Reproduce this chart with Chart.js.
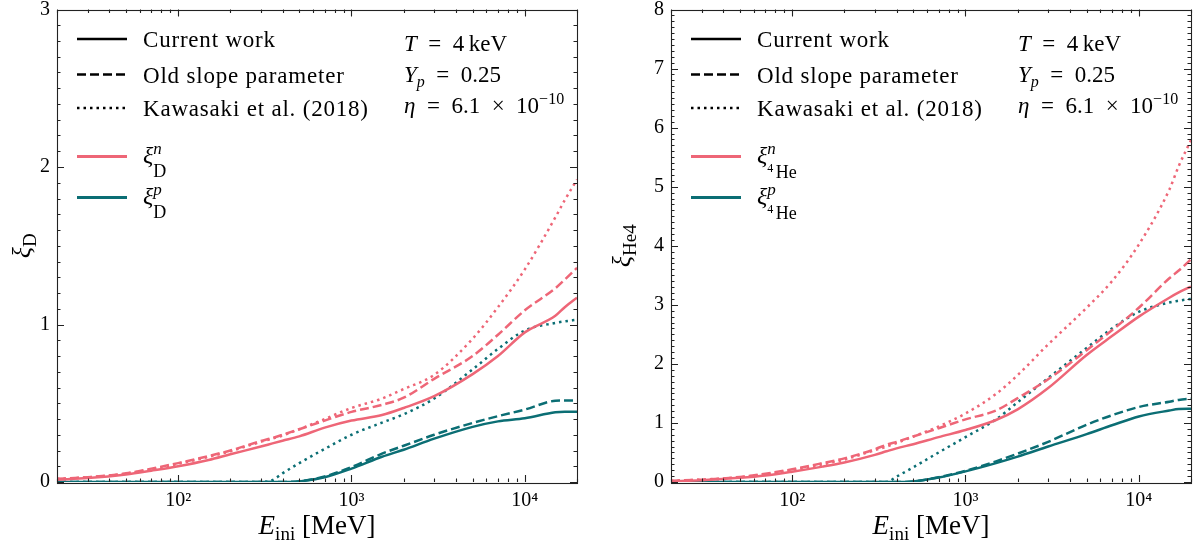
<!DOCTYPE html>
<html lang="en">

<head>
    <meta charset="UTF-8">
    <meta name="viewport" content="width=device-width, initial-scale=1.0">
    <script src="https://cdn.jsdelivr.net/npm/chart.js"></script>
    <title>ξD e ξ4He</title>
    <style>
        body { margin: 0; background: #fff; }
        .container { position: relative; width: 1200px; height: 546px; }
        .container canvas { position: absolute; top: 0; }
    </style>
</head>
<body>
    <div class="container">
        <canvas id="GraficoD" width="600" height="546" style="left: 0;"></canvas>
        <canvas id="GraficoHe" width="600" height="546" style="left: 600px;"></canvas>
    </div>
<script>
// energia inicial [MeV], comum a todas as curvas
const energias = [20, 30, 50, 70, 100, 150, 200, 300, 350, 400, 500, 700, 1000, 1500, 2000, 3000, 5000, 7000, 10000, 15000, 17000, 20000];

// xi_D : n (rosa) e p (verde)
const dN_atual    = [0.015, 0.025, 0.048, 0.072, 0.10, 0.14, 0.176, 0.225, 0.245, 0.262, 0.29, 0.345, 0.39, 0.425, 0.47, 0.545, 0.685, 0.80, 0.95, 1.055, 1.11, 1.17];
const dN_antigo   = [0.02, 0.03, 0.055, 0.085, 0.12, 0.165, 0.20, 0.26, 0.28, 0.30, 0.335, 0.39, 0.445, 0.49, 0.535, 0.655, 0.80, 0.935, 1.09, 1.23, 1.285, 1.36];
const dN_kawasaki = [0.02, 0.03, 0.053, 0.08, 0.115, 0.16, 0.195, 0.255, 0.275, 0.295, 0.335, 0.40, 0.47, 0.53, 0.59, 0.68, 0.91, 1.11, 1.35, 1.68, 1.79, 1.92];
const dP_atual    = [0, 0, 0, 0, 0, 0, 0, 0, 0, 0, 0.004, 0.03, 0.085, 0.16, 0.205, 0.275, 0.35, 0.385, 0.405, 0.443, 0.446, 0.446];
const dP_antigo   = [0, 0, 0, 0, 0, 0, 0, 0, 0, 0, 0.005, 0.035, 0.095, 0.18, 0.23, 0.30, 0.375, 0.418, 0.46, 0.516, 0.518, 0.518];
const dP_kawasaki = [0, 0, 0, 0, 0, 0, 0, 0, 0.012, 0.055, 0.12, 0.21, 0.30, 0.377, 0.43, 0.53, 0.715, 0.845, 0.962, 1.01, 1.02, 1.03];

// xi_4He
const heN_atual    = [0.01, 0.03, 0.07, 0.11, 0.175, 0.26, 0.33, 0.46, 0.52, 0.57, 0.64, 0.76, 0.88, 1.05, 1.23, 1.59, 2.15, 2.47, 2.80, 3.12, 3.21, 3.31];
const heN_antigo   = [0.02, 0.04, 0.085, 0.14, 0.215, 0.32, 0.40, 0.555, 0.63, 0.68, 0.77, 0.91, 1.06, 1.21, 1.42, 1.74, 2.23, 2.57, 2.95, 3.45, 3.58, 3.77];
const heN_kawasaki = [0.02, 0.04, 0.08, 0.13, 0.205, 0.30, 0.38, 0.54, 0.60, 0.66, 0.77, 0.94, 1.16, 1.49, 1.81, 2.33, 2.95, 3.40, 4.02, 4.95, 5.35, 5.79];
const heP_atual    = [0, 0, 0, 0, 0, 0, 0, 0, 0, 0, 0.01, 0.075, 0.18, 0.32, 0.43, 0.60, 0.81, 0.96, 1.11, 1.21, 1.235, 1.24];
const heP_antigo   = [0, 0, 0, 0, 0, 0, 0, 0, 0, 0, 0.01, 0.08, 0.19, 0.35, 0.48, 0.68, 0.97, 1.13, 1.27, 1.36, 1.39, 1.41];
const heP_kawasaki = [0, 0, 0, 0, 0, 0, 0, 0, 0, 0.09, 0.25, 0.50, 0.76, 1.06, 1.35, 1.76, 2.27, 2.60, 2.88, 3.04, 3.07, 3.10];

const legendaEstilos = ['Current work', 'Old slope parameter', 'Kawasaki et al. (2018)'];
const rotulosEixoX = ['10²', '10³', '10⁴'];

const rosa = '#EE6677';
const verde = '#0B6E74';
const tracos = [[], [9, 4], [2.5, 4]];
const fonte = 'Liberation Serif';

function ehInteiro(v) {
    return Math.abs(v - Math.round(v)) < 1e-6;
}

function serie(y, cor, traco) {
    return {
        data: energias.map((e, i) => ({ x: e, y: y[i] })),
        borderColor: cor,
        borderWidth: 2.5,
        borderDash: traco,
        borderCapStyle: 'butt',
        pointRadius: 0,
        cubicInterpolationMode: 'monotone',
        fill: false
    };
}

// texto com itálico, sobrescrito e subscrito; "junto" empilha sobre a parte anterior
function textoRico(ctx, partes, medir) {
    let cx = 0, inicio = 0;
    partes.forEach(p => {
        ctx.font = (p.it ? 'italic ' : '') + (p.tam || 23) + 'px "' + fonte + '"';
        if (p.junto) cx = Math.max(cx, inicio); else inicio = cx;
        const x0 = p.junto ? inicio : cx;
        if (!medir) ctx.fillText(p.t, x0, p.dy || 0);
        cx = Math.max(cx, x0 + ctx.measureText(p.t).width);
    });
    return cx;
}

function escreve(ctx, x, y, partes, alinhar) {
    ctx.save();
    const w = textoRico(ctx, partes, true);
    ctx.translate(alinhar === 'center' ? x - w / 2 : x, y);
    textoRico(ctx, partes, false);
    ctx.restore();
}

// moldura com marcas para dentro nos quatro lados
const moldura = {
    id: 'moldura',
    afterDatasetsDraw(chart) {
        const { ctx, chartArea: a, scales: { x, y } } = chart;
        ctx.save();
        ctx.strokeStyle = '#222';
        ctx.lineWidth = 1.1;
        ctx.beginPath();
        x.ticks.forEach(t => {
            const m = t.value / Math.pow(10, Math.floor(Math.log10(t.value) + 1e-9));
            if (!ehInteiro(m)) return;
            const px = Math.round(x.getPixelForValue(t.value)) + 0.5;
            const len = ehInteiro(Math.log10(t.value)) ? 7 : 3.5;
            ctx.moveTo(px, a.bottom); ctx.lineTo(px, a.bottom - len);
            ctx.moveTo(px, a.top); ctx.lineTo(px, a.top + len);
        });
        y.ticks.forEach(t => {
            const py = Math.round(y.getPixelForValue(t.value)) + 0.5;
            const len = ehInteiro(t.value) ? 7 : 3.5;
            ctx.moveTo(a.left, py); ctx.lineTo(a.left + len, py);
            ctx.moveTo(a.right, py); ctx.lineTo(a.right - len, py);
        });
        ctx.stroke();
        ctx.strokeRect(Math.round(a.left) + 0.5, Math.round(a.top) + 0.5, Math.round(a.width), Math.round(a.height));
        ctx.restore();
    }
};

function anotacoes(cfg) {
    return {
        id: 'anotacoes',
        afterDraw(chart) {
            const { ctx, chartArea: a } = chart;
            ctx.save();
            ctx.fillStyle = '#000';
            ctx.textBaseline = 'alphabetic';

            // legenda dos estilos de linha
            const linhasY = [29.5, 65, 98.5];
            linhasY.forEach((ly, i) => {
                ctx.strokeStyle = '#000';
                ctx.lineWidth = 2.5;
                ctx.setLineDash(tracos[i]);
                ctx.beginPath();
                ctx.moveTo(a.left + 20, a.top + ly);
                ctx.lineTo(a.left + 70, a.top + ly);
                ctx.stroke();
                ctx.letterSpacing = '0.8px';
                escreve(ctx, a.left + 86, a.top + ly + 8, [{ t: legendaEstilos[i] }]);
                ctx.letterSpacing = '0px';
            });

            // legenda das cores
            ctx.setLineDash([]);
            [[147, rosa, 'n'], [188, verde, 'p']].forEach(([ly, cor, sup]) => {
                ctx.strokeStyle = cor;
                ctx.lineWidth = 3;
                ctx.beginPath();
                ctx.moveTo(a.left + 20, a.top + ly);
                ctx.lineTo(a.left + 70, a.top + ly);
                ctx.stroke();
                escreve(ctx, a.left + 86, a.top + ly + 6, [
                    { t: 'ξ', it: true, tam: 24 },
                    { t: sup, it: true, tam: 17, dy: -9 },
                    ...cfg.indice(true)
                ]);
            });

            // parâmetros
            const px = a.left + 347;
            escreve(ctx, px, a.top + 41, [{ t: 'T', it: true }, { t: '\u2002=\u20024\u2009keV' }]);
            escreve(ctx, px, a.top + 72, [{ t: 'Y', it: true }, { t: 'p', it: true, tam: 16, dy: 5 }, { t: '\u2002=\u20020.25' }]);
            escreve(ctx, px, a.top + 103.5, [{ t: 'η', it: true }, { t: '\u2002=\u20026.1\u2002×\u200210' }, { t: '−10', tam: 16, dy: -9 }]);

            // títulos dos eixos
            escreve(ctx, (a.left + a.right) / 2, 534, [
                { t: 'E', it: true, tam: 27 }, { t: 'ini', tam: 19, dy: 6 }, { t: ' [MeV]', tam: 27 }
            ], 'center');
            ctx.save();
            ctx.translate(cfg.tituloX, (a.top + a.bottom) / 2);
            ctx.rotate(-Math.PI / 2);
            escreve(ctx, 0, 0, [{ t: 'ξ', it: true, tam: 26 }, ...cfg.indice(false)], 'center');
            ctx.restore();
            ctx.restore();
        }
    };
}

function eixos(ymax, larguraY) {
    const fonteTicks = { family: fonte, size: 20, lineHeight: 1 };
    return {
        x: {
            type: 'logarithmic',
            min: 20,
            max: 20000,
            grid: { display: false, drawTicks: false },
            border: { display: false },
            ticks: {
                autoSkip: false,
                maxRotation: 0,
                padding: 9,
                color: '#000',
                font: fonteTicks,
                callback: v => {
                    const k = Math.log10(v);
                    return ehInteiro(k) && k >= 2 ? rotulosEixoX[Math.round(k) - 2] : '';
                }
            },
            afterFit: s => { s.height = 64; }
        },
        y: {
            min: 0,
            max: ymax,
            grid: { display: false, drawTicks: false },
            border: { display: false },
            ticks: {
                stepSize: 0.1,
                autoSkip: false,
                padding: 7,
                color: '#000',
                font: fonteTicks,
                callback: v => ehInteiro(v) ? String(Math.round(v)) : ''
            },
            // a área do gráfico fica presa só ao padding do layout
            afterFit: s => { s.width = larguraY; s.paddingTop = 0; s.paddingBottom = 0; }
        }
    };
}

function opcoes(ymax, larguraY, direita) {
    return {
        responsive: false,
        animation: false,
        devicePixelRatio: 1,
        layout: { autoPadding: false, padding: { left: 0, top: 9.5, right: direita, bottom: 0 } },
        plugins: { legend: { display: false }, tooltip: { enabled: false } },
        scales: eixos(ymax, larguraY)
    };
}

new Chart(document.getElementById('GraficoD'), {
    type: 'line',
    data: {
        datasets: [
            serie(dN_atual, rosa, tracos[0]),
            serie(dP_atual, verde, tracos[0]),
            serie(dN_antigo, rosa, tracos[1]),
            serie(dP_antigo, verde, tracos[1]),
            serie(dN_kawasaki, rosa, tracos[2]),
            serie(dP_kawasaki, verde, tracos[2])
        ]
    },
    options: opcoes(3, 57, 23),
    plugins: [moldura, anotacoes({
        tituloX: 30,
        indice: legenda => legenda
            ? [{ t: 'D', tam: 18, dy: 14, junto: true }]
            : [{ t: 'D', tam: 19, dy: 6 }]
    })]
});

new Chart(document.getElementById('GraficoHe'), {
    type: 'line',
    data: {
        datasets: [
            serie(heN_atual, rosa, tracos[0]),
            serie(heP_atual, verde, tracos[0]),
            serie(heN_antigo, rosa, tracos[1]),
            serie(heP_antigo, verde, tracos[1]),
            serie(heN_kawasaki, rosa, tracos[2]),
            serie(heP_kawasaki, verde, tracos[2])
        ]
    },
    options: opcoes(8, 71, 8),
    plugins: [moldura, anotacoes({
        tituloX: 30,
        indice: legenda => legenda
            ? [{ t: '4', tam: 12, dy: 9, junto: true }, { t: 'He', tam: 18, dy: 15 }]
            : [{ t: 'He4', tam: 19, dy: 6 }]
    })]
});
</script>
</body>
</html>
